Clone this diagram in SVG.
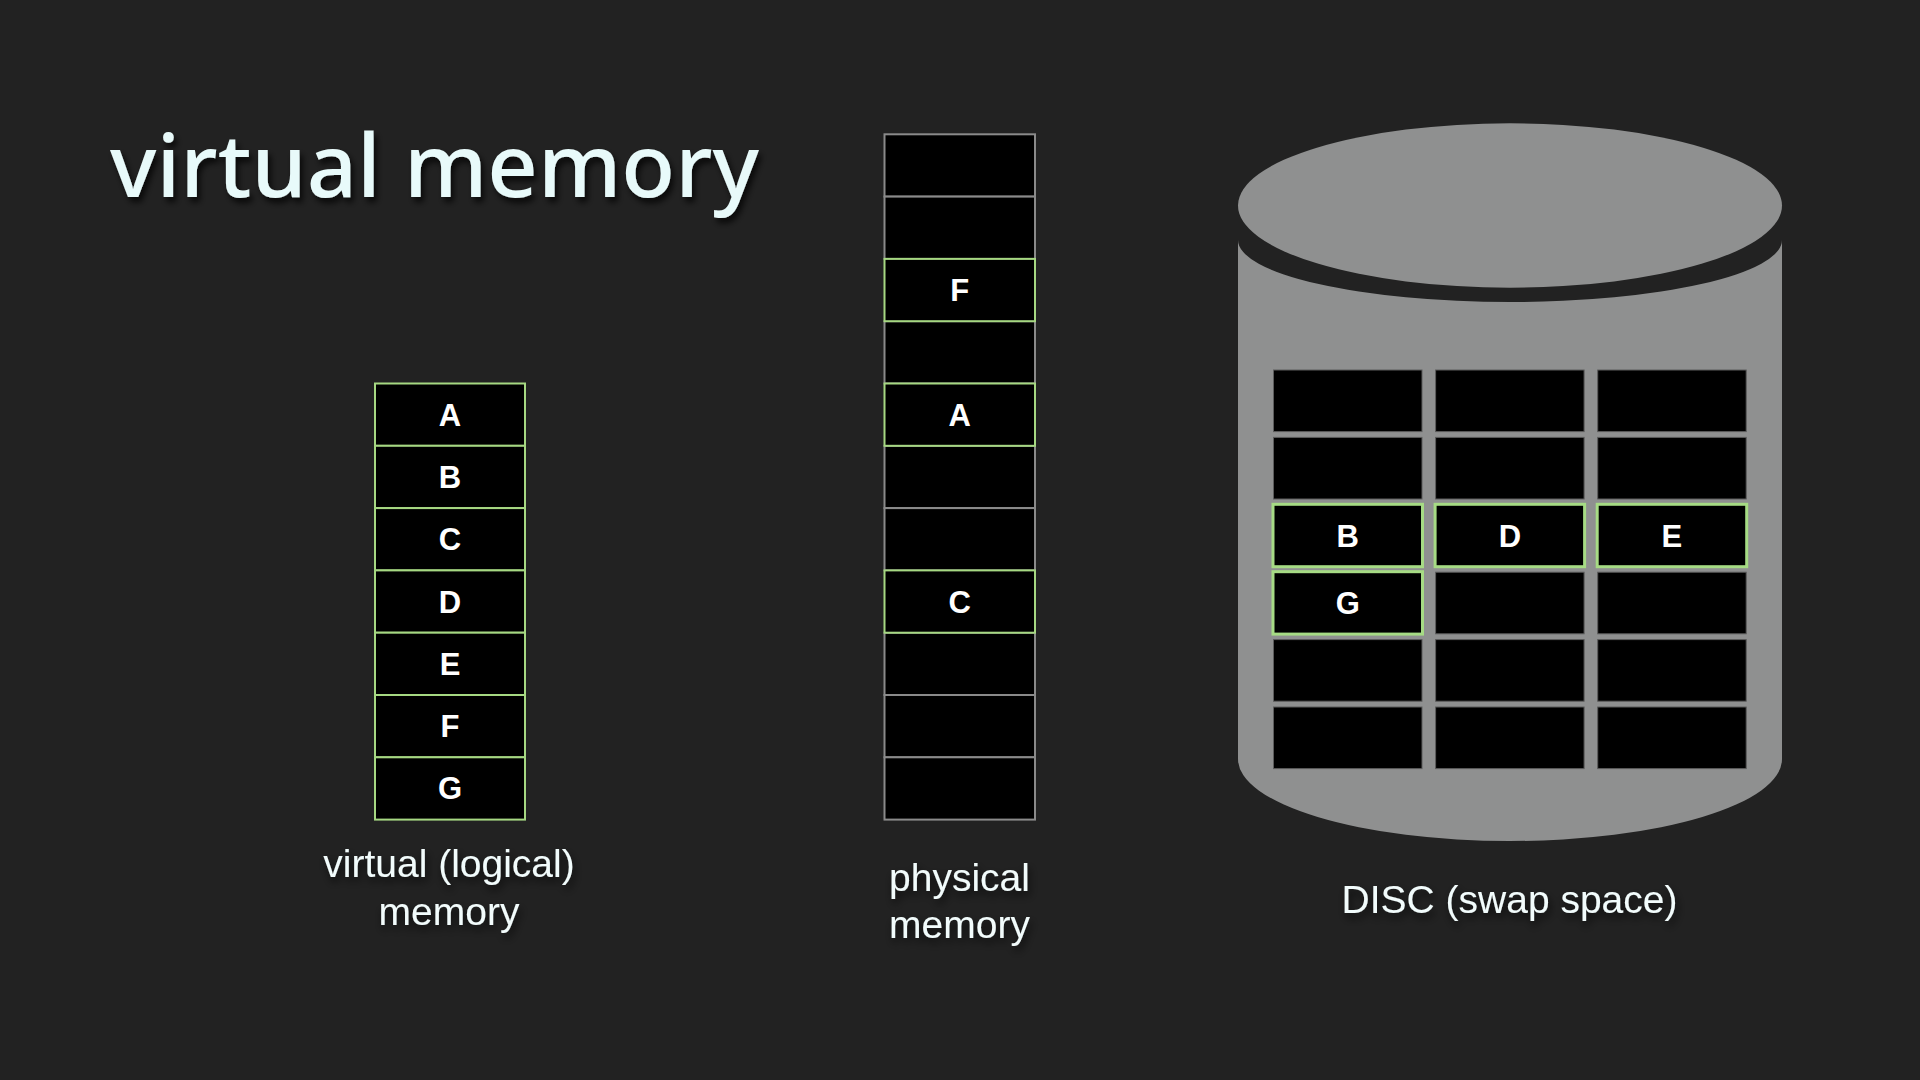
<svg xmlns="http://www.w3.org/2000/svg" width="1920" height="1080" viewBox="0 0 1920 1080">
<defs>
<filter id="shadow" x="-10%" y="-30%" width="120%" height="160%">
<feDropShadow dx="3" dy="5" stdDeviation="3" flood-color="#000" flood-opacity="0.75"/>
</filter>
<filter id="lshadow" x="-10%" y="-30%" width="120%" height="160%">
<feDropShadow dx="2" dy="5" stdDeviation="4" flood-color="#000" flood-opacity="0.7"/>
</filter>
</defs>
<style>
.cell{fill:#000;stroke:#a6d882;stroke-width:2}
.pcell{fill:#000;stroke:#8a8a8a;stroke-width:2}
.dcell{fill:#000;stroke:#5c5c5c;stroke-width:1}
.dgreen{fill:#000;stroke:#a6db84;stroke-width:3}
.letter{font-family:"Liberation Sans",Arial,sans-serif;font-weight:bold;font-size:31px;fill:#fff;text-anchor:middle}
.label{font-family:"Liberation Sans",Arial,sans-serif;font-size:39px;fill:#f2fcfc;text-anchor:middle;filter:url(#lshadow)}
.title{font-family:"Noto Sans","Open Sans",sans-serif;font-weight:500;font-size:88px;fill:#e8fafa;filter:url(#shadow)}
</style>
<rect x="0" y="0" width="1920" height="1080" fill="#222222"/>

<text class="title" x="110" y="197" textLength="649" lengthAdjust="spacing">virtual memory</text>

<!-- virtual memory column -->
<g id="virtual-memory">
<g id="v-A"><rect class="cell" x="375" y="383.5" width="150" height="62.3"/><text class="letter" x="450" y="425.6">A</text></g>
<g id="v-B"><rect class="cell" x="375" y="445.8" width="150" height="62.3"/><text class="letter" x="450" y="487.9">B</text></g>
<g id="v-C"><rect class="cell" x="375" y="508.1" width="150" height="62.3"/><text class="letter" x="450" y="550.2">C</text></g>
<g id="v-D"><rect class="cell" x="375" y="570.4" width="150" height="62.3"/><text class="letter" x="450" y="612.5">D</text></g>
<g id="v-E"><rect class="cell" x="375" y="632.7" width="150" height="62.3"/><text class="letter" x="450" y="674.8">E</text></g>
<g id="v-F"><rect class="cell" x="375" y="695.0" width="150" height="62.3"/><text class="letter" x="450" y="737.1">F</text></g>
<g id="v-G"><rect class="cell" x="375" y="757.3" width="150" height="62.3"/><text class="letter" x="450" y="799.4">G</text></g>
</g>
<text class="label" x="449" y="877">virtual (logical)</text>
<text class="label" x="449" y="925">memory</text>

<!-- physical memory column -->
<g id="physical-memory">
<g id="p-0"><rect class="pcell" x="884.5" y="134.3" width="150.5" height="62.3"/></g>
<g id="p-1"><rect class="pcell" x="884.5" y="196.6" width="150.5" height="62.3"/></g>
<g id="p-3"><rect class="pcell" x="884.5" y="321.2" width="150.5" height="62.3"/></g>
<g id="p-5"><rect class="pcell" x="884.5" y="445.8" width="150.5" height="62.3"/></g>
<g id="p-6"><rect class="pcell" x="884.5" y="508.1" width="150.5" height="62.3"/></g>
<g id="p-8"><rect class="pcell" x="884.5" y="632.7" width="150.5" height="62.3"/></g>
<g id="p-9"><rect class="pcell" x="884.5" y="695.0" width="150.5" height="62.3"/></g>
<g id="p-10"><rect class="pcell" x="884.5" y="757.3" width="150.5" height="62.3"/></g>
<g id="p-F"><rect class="cell" x="884.5" y="258.9" width="150.5" height="62.3"/><text class="letter" x="959.75" y="301.0">F</text></g>
<g id="p-A"><rect class="cell" x="884.5" y="383.5" width="150.5" height="62.3"/><text class="letter" x="959.75" y="425.6">A</text></g>
<g id="p-C"><rect class="cell" x="884.5" y="570.4" width="150.5" height="62.3"/><text class="letter" x="959.75" y="612.5">C</text></g>
</g>
<text class="label" x="959.5" y="891">physical</text>
<text class="label" x="959.5" y="938">memory</text>

<!-- disc -->
<g id="disc">
<path d="M1238 240 L1238 759 A272 82 0 0 0 1782 759 L1782 240 A272 62 0 0 1 1238 240 Z" fill="#8f9090"/>
<ellipse cx="1510" cy="205.5" rx="272" ry="82.2" fill="#8f9090"/>
<g id="disc-grid">
<rect class="dcell" x="1273.5" y="370" width="148.5" height="61.6"/>
<rect class="dcell" x="1435.6" y="370" width="148.5" height="61.6"/>
<rect class="dcell" x="1597.7" y="370" width="148.5" height="61.6"/>
<rect class="dcell" x="1273.5" y="437.4" width="148.5" height="61.6"/>
<rect class="dcell" x="1435.6" y="437.4" width="148.5" height="61.6"/>
<rect class="dcell" x="1597.7" y="437.4" width="148.5" height="61.6"/>
<rect class="dcell" x="1435.6" y="572.2" width="148.5" height="61.6"/>
<rect class="dcell" x="1597.7" y="572.2" width="148.5" height="61.6"/>
<rect class="dcell" x="1273.5" y="639.6" width="148.5" height="61.6"/>
<rect class="dcell" x="1435.6" y="639.6" width="148.5" height="61.6"/>
<rect class="dcell" x="1597.7" y="639.6" width="148.5" height="61.6"/>
<rect class="dcell" x="1273.5" y="707" width="148.5" height="61.6"/>
<rect class="dcell" x="1435.6" y="707" width="148.5" height="61.6"/>
<rect class="dcell" x="1597.7" y="707" width="148.5" height="61.6"/>
</g>
<g id="d-B"><rect class="dgreen" x="1273" y="504.3" width="149.5" height="62.4"/><text class="letter" x="1347.75" y="546.5">B</text></g>
<g id="d-D"><rect class="dgreen" x="1435.1" y="504.3" width="149.5" height="62.4"/><text class="letter" x="1509.85" y="546.5">D</text></g>
<g id="d-E"><rect class="dgreen" x="1597.2" y="504.3" width="149.5" height="62.4"/><text class="letter" x="1671.95" y="546.5">E</text></g>
<g id="d-G"><rect class="dgreen" x="1273" y="571.7" width="149.5" height="62.4"/><text class="letter" x="1347.75" y="613.9">G</text></g>
</g>
<text class="label" x="1509.5" y="913">DISC (swap space)</text>
<g id="connectors"/>
</svg>
